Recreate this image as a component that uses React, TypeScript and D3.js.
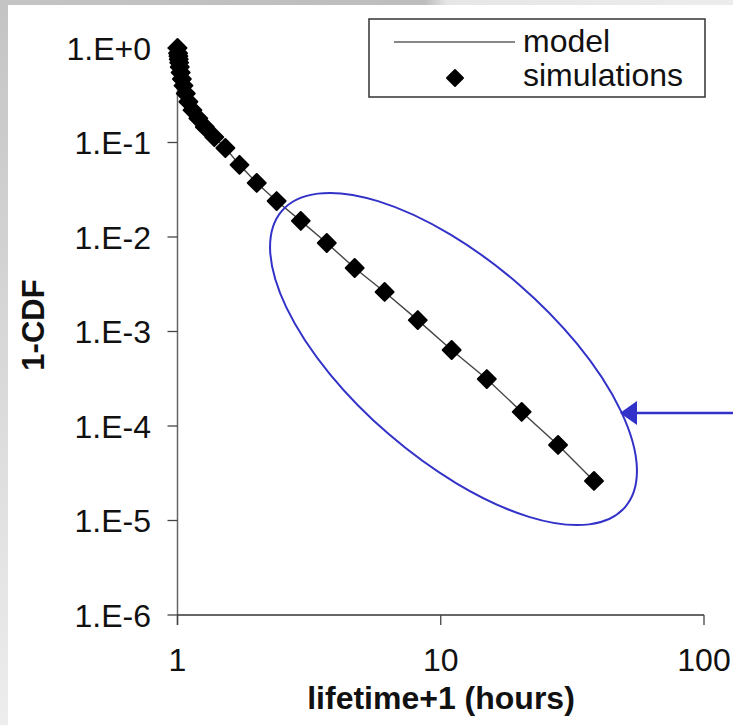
import React from 'react';
import * as d3 from 'd3';

const W = 733;
const H = 725;

// lifetime+1 (hours) and 1-CDF
const simX = [
  1.0, 1.005, 1.008, 1.011, 1.015, 1.02, 1.028, 1.039, 1.054, 1.075, 1.1,
  1.14, 1.2, 1.27, 1.38, 1.52, 1.72, 2.0, 2.38, 2.94, 3.69, 4.71, 6.12, 8.18,
  11.0, 14.96, 20.3, 27.9, 38.2,
];
const simY = [
  1.0, 0.88, 0.82, 0.76, 0.7, 0.63, 0.55, 0.47, 0.4, 0.33, 0.27, 0.22, 0.18,
  0.146, 0.114, 0.0875, 0.058, 0.0373, 0.024, 0.0148, 0.00864, 0.0047,
  0.00262, 0.00132, 0.000637, 0.000314, 0.000141, 0.000063, 0.0000262,
];
const modelX = [
  1.0, 1.01, 1.02, 1.04, 1.06, 1.1, 1.14, 1.2, 1.27, 1.38, 1.52, 1.72, 2.0,
  2.38, 2.94, 3.69, 4.71, 6.12, 8.18, 11.0, 14.96, 20.3, 27.9, 38.2,
];
const modelY = [
  1.0, 0.78, 0.64, 0.46, 0.38, 0.27, 0.22, 0.18, 0.146, 0.114, 0.0875, 0.058,
  0.0373, 0.024, 0.0148, 0.00864, 0.0047, 0.00262, 0.00132, 0.000637,
  0.000314, 0.000141, 0.000063, 0.0000262,
];
const yTicks = [1, 1e-1, 1e-2, 1e-3, 1e-4, 1e-5, 1e-6];
const yTickLabels = ['1.E+0', '1.E-1', '1.E-2', '1.E-3', '1.E-4', '1.E-5', '1.E-6'];
const xTicks = [1, 10, 100];
const xTickLabels = ['1', '10', '100'];
const legendLabels = ['model', 'simulations'];

const font = '"Liberation Sans", Arial, sans-serif';
const blue = '#3232c8';

export default function App() {
  const x = d3.scaleLog().domain([1, 100]).range([177.5, 704]);
  const y = d3.scaleLog().domain([1e-6, 1]).range([615, 48]);

  const line = d3
    .line<number>()
    .x((d) => x(d))
    .y((d, i) => y(modelY[i]));

  const diamond = d3.symbol().type(d3.symbolSquare).size(160)();

  return (
    <svg
      width={W}
      height={H}
      style={{ position: 'absolute', left: 0, top: 0 }}
      fontFamily={font}
    >
      <defs>
        <linearGradient id="leftbg" x1="0" y1="0" x2="0" y2="1">
          <stop offset="0" stopColor="#c4c4c4" />
          <stop offset="1" stopColor="#ededed" />
        </linearGradient>
        <linearGradient id="topbg" x1="0" y1="0" x2="1" y2="0">
          <stop offset="0" stopColor="#c4c4c4" />
          <stop offset="0.58" stopColor="#bdbdbd" />
          <stop offset="0.61" stopColor="#e6e6e6" />
          <stop offset="1" stopColor="#ececec" />
        </linearGradient>
      </defs>
      <rect width={W} height={H} fill="#fff" />
      <rect width={W} height={5} fill="url(#topbg)" />
      <rect width={8} height={H} fill="url(#leftbg)" />

      {/* y axis */}
      <line x1={x(1)} x2={x(1)} y1={y(1)} y2={y(1e-6) + 10} stroke="#666" strokeWidth={1.5} />
      {yTicks.map((t, i) => (
        <g key={t} transform={`translate(0,${y(t)})`}>
          <line x1={x(1) - 10} x2={x(1)} stroke="#444" strokeWidth={1.3} />
          <text x={151} dy="0.36em" textAnchor="end" fontSize={32} fill="#111">
            {yTickLabels[i]}
          </text>
        </g>
      ))}

      {/* x axis */}
      <line x1={x(1)} x2={x(100)} y1={y(1e-6)} y2={y(1e-6)} stroke="#333" strokeWidth={1.5} />
      {xTicks.map((t, i) => (
        <g key={t} transform={`translate(${x(t)},0)`}>
          <line y1={y(1e-6)} y2={y(1e-6) + 10} stroke="#444" strokeWidth={1.3} />
          <text y={671} textAnchor="middle" fontSize={32} fill="#111">
            {xTickLabels[i]}
          </text>
        </g>
      ))}

      <text x={441} y={709} textAnchor="middle" fontSize={32} fontWeight="bold" fill="#111">
        lifetime+1 (hours)
      </text>
      <text
        transform="translate(44,325) rotate(-90)"
        textAnchor="middle"
        fontSize={31}
        fontWeight="bold"
        fill="#111"
      >
        1-CDF
      </text>

      {/* model */}
      <path d={line(modelX) || ''} fill="none" stroke="#444" strokeWidth={1.4} />

      {/* simulations */}
      {simX.map((v, i) => (
        <path
          key={i}
          d={diamond}
          transform={`translate(${x(v)},${y(simY[i])}) rotate(45)`}
          fill="#000"
          stroke="#000"
          strokeWidth={2}
          strokeLinejoin="round"
        />
      ))}

      {/* annotation */}
      <ellipse
        cx={453.5}
        cy={359}
        rx={226.7}
        ry={99.2}
        transform="rotate(40.8 453.5 359)"
        fill="none"
        stroke={blue}
        strokeWidth={2}
      />
      <line x1={633} x2={W} y1={413} y2={413} stroke={blue} strokeWidth={2.5} />
      <path d="M620,413 L637,401 L637,425 Z" fill={blue} />

      {/* legend */}
      <rect x={369} y={19} width={336} height={78} fill="#fff" stroke="#333" strokeWidth={1.5} />
      <line x1={394} x2={515} y1={42} y2={42} stroke="#111" strokeWidth={1.2} />
      <text x={523} y={52} fontSize={32} fill="#111">
        {legendLabels[0]}
      </text>
      <path
        d={diamond}
        transform="translate(455,78) rotate(45) scale(0.9)"
        fill="#000"
        stroke="#000"
        strokeWidth={2}
        strokeLinejoin="round"
      />
      <text x={523} y={86} fontSize={32} fill="#111">
        {legendLabels[1]}
      </text>
    </svg>
  );
}
